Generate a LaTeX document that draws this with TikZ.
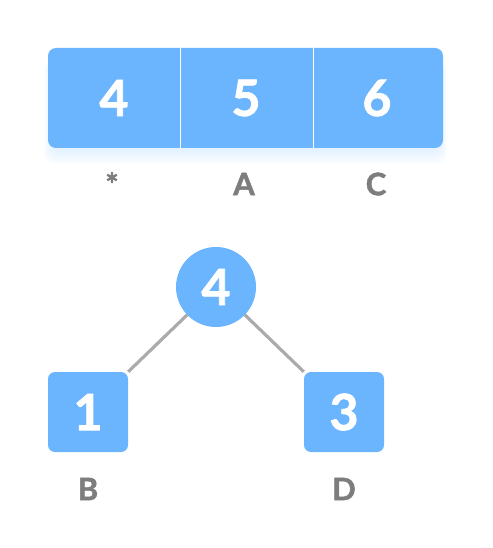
\documentclass[tikz,border=0pt]{standalone}
\usepackage{fontspec}
\setmainfont{Lato}[BoldFeatures={FakeBold=1.6}]
\usetikzlibrary{backgrounds}
\definecolor{cellblue}{HTML}{6BB4FE}
\definecolor{labgray}{HTML}{7D7D7D}
\definecolor{edgegray}{HTML}{ABABAB}
\tikzset{
  cell/.style={draw=none, minimum width=132pt, minimum height=100pt, inner sep=0pt, text=white, font=\fontsize{50}{50}\selectfont\bfseries},
  treebox/.style={fill=cellblue, rounded corners=7pt, minimum width=80pt, minimum height=80pt, inner sep=0pt, text=white, font=\fontsize{50}{50}\selectfont\bfseries},
  treecirc/.style={circle, fill=cellblue, minimum size=80pt, inner sep=0pt, text=white, font=\fontsize{50}{50}\selectfont\bfseries},
  lab/.style={text=labgray, font=\fontsize{31}{31}\selectfont\bfseries, inner sep=0pt},
  edge/.style={draw=edgegray, line width=3.2pt}
}
\begin{document}
\begin{tikzpicture}[x=1pt,y=-1pt]
\useasboundingbox (0,0) rectangle (492,548);
% shadow
\foreach \i in {1,...,8}{
  \fill[cellblue, opacity=0.025, rounded corners=10pt] (52-\i,60) rectangle (439+\i,150+1.8*\i);
}
\fill[cellblue, rounded corners=8pt] (48,48) rectangle (443,148);
\node[cell] (c1) at (114,98) {4};
\node[cell] (c2) at (246,98) {5};
\node[cell] (c3) at (377,98) {6};
\draw[white, line width=1.5pt] (180.5,48) -- (180.5,148);
\draw[white, line width=1.5pt] (313.5,48) -- (313.5,148);
\node[lab] (l1) at (112,184) {*};
\node[lab] (l2) at (244,184) {A};
\node[lab] (l3) at (376,184) {C};
% tree
\node[treecirc] (r) at (216,287) {4};
\node[treebox] (b1) at (88,412) {1};
\node[treebox] (b3) at (344,412) {3};
\begin{scope}[on background layer]
\draw[edge] (r.center) -- (b1.north east);
\draw[edge] (r.center) -- (b3.north west);
\end{scope}
\node[lab] (lb) at (88,489) {B};
\node[lab] (ld) at (344,489) {D};
\end{tikzpicture}
\end{document}
